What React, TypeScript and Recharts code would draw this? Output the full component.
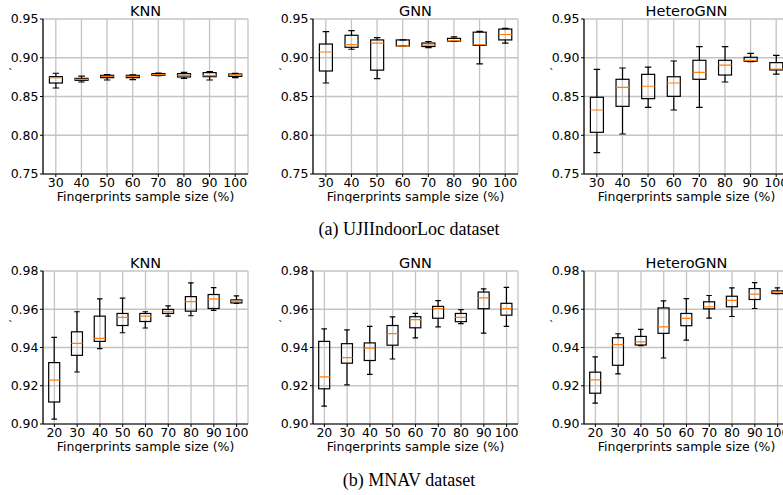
import { Bar, CartesianGrid, ComposedChart, XAxis, YAxis } from "recharts";

// sample sizes (%)
const ujiSizes = ["30", "40", "50", "60", "70", "80", "90", "100"];
const mnavSizes = ["20", "30", "40", "50", "60", "70", "80", "90", "100"];

const ujiTicks = [0.75, 0.8, 0.85, 0.9, 0.95];
const mnavTicks = [0.9, 0.92, 0.94, 0.96, 0.98];

// each entry: [whisker low, q1, median, q3, whisker high]
const ujiKnn = [
  [0.861, 0.8674, 0.8743, 0.8756, 0.88],
  [0.8687, 0.8709, 0.8721, 0.8734, 0.8764],
  [0.8713, 0.8743, 0.876, 0.8773, 0.8782],
  [0.8717, 0.8743, 0.876, 0.8773, 0.878],
  [0.8769, 0.8773, 0.8782, 0.8795, 0.8803],
  [0.8734, 0.8752, 0.8773, 0.8795, 0.8812],
  [0.8713, 0.8756, 0.877, 0.8808, 0.882],
  [0.8743, 0.876, 0.8778, 0.879, 0.8799],
];
const ujiGnn = [
  [0.8674, 0.8829, 0.9074, 0.9177, 0.9336],
  [0.911, 0.9135, 0.917, 0.929, 0.935],
  [0.873, 0.884, 0.919, 0.923, 0.926],
  [0.915, 0.915, 0.915, 0.923, 0.923],
  [0.913, 0.9145, 0.9163, 0.919, 0.921],
  [0.921, 0.9215, 0.922, 0.925, 0.927],
  [0.892, 0.916, 0.917, 0.933, 0.934],
  [0.919, 0.923, 0.93, 0.937, 0.938],
];
const ujiHetero = [
  [0.7775, 0.8038, 0.8326, 0.849, 0.885],
  [0.8016, 0.8373, 0.8619, 0.8722, 0.8868],
  [0.836, 0.8472, 0.8632, 0.8786, 0.888],
  [0.8326, 0.8502, 0.8674, 0.8755, 0.8958],
  [0.836, 0.8722, 0.8812, 0.8967, 0.9143],
  [0.8687, 0.8777, 0.8906, 0.8967, 0.9143],
  [0.8949, 0.8955, 0.8967, 0.9006, 0.9057],
  [0.879, 0.8842, 0.8855, 0.8937, 0.9031],
];
const mnavKnn = [
  [0.9026, 0.9115, 0.9229, 0.9321, 0.9453],
  [0.9272, 0.9359, 0.9422, 0.9482, 0.9587],
  [0.9394, 0.9432, 0.9448, 0.9564, 0.9654],
  [0.9477, 0.9515, 0.9557, 0.9578, 0.9658],
  [0.9502, 0.9536, 0.9564, 0.9578, 0.9587],
  [0.9564, 0.9578, 0.9587, 0.9599, 0.9618],
  [0.9566, 0.959, 0.964, 0.9666, 0.9738],
  [0.9594, 0.9604, 0.9654, 0.9677, 0.9713],
  [0.963, 0.9633, 0.9642, 0.9649, 0.967],
];
const mnavGnn = [
  [0.9093, 0.9184, 0.9246, 0.9432, 0.9497],
  [0.9205, 0.9318, 0.9347, 0.942, 0.9492],
  [0.926, 0.9332, 0.9397, 0.9424, 0.951],
  [0.934, 0.9412, 0.9473, 0.9515, 0.956],
  [0.945, 0.9503, 0.9546, 0.9561, 0.9578],
  [0.9508, 0.9553, 0.9604, 0.9615, 0.9645],
  [0.9525, 0.9535, 0.9557, 0.9578, 0.9598],
  [0.9475, 0.9603, 0.966, 0.969, 0.9707],
  [0.951, 0.9569, 0.9604, 0.9631, 0.9714],
];
const mnavHetero = [
  [0.9109, 0.9161, 0.9231, 0.9271, 0.9351],
  [0.9262, 0.9307, 0.9415, 0.9451, 0.9472],
  [0.941, 0.9413, 0.9429, 0.9458, 0.9495],
  [0.9345, 0.9474, 0.9508, 0.9607, 0.9644],
  [0.9439, 0.9514, 0.9552, 0.9578, 0.9656],
  [0.9554, 0.9602, 0.9613, 0.9639, 0.9672],
  [0.9562, 0.9613, 0.9646, 0.9668, 0.9712],
  [0.9604, 0.9651, 0.9679, 0.9708, 0.9739],
  [0.9682, 0.9682, 0.9689, 0.9696, 0.9712],
];

const FONT = "DejaVu Sans";
const PLOT_W = 205;
const YW = 45;
const MT = 22;
const MR = 6;

function BoxShape(props: any) {
  const { x, y, width, height, payload } = props;
  const top = Math.min(y, y + height);
  const h = Math.abs(height);
  const { lo, q1, med, q3, hi } = payload;
  const py = (v: number) => top + ((hi - v) / (hi - lo)) * h;
  const cx = x + width / 2;
  const half = width / 2;
  const cap = width / 4;
  const sw = 1.2;
  return (
    <g>
      <line x1={cx} x2={cx} y1={py(hi)} y2={py(q3)} stroke="#000" strokeWidth={sw} />
      <line x1={cx} x2={cx} y1={py(q1)} y2={py(lo)} stroke="#000" strokeWidth={sw} />
      <line x1={cx - cap} x2={cx + cap} y1={py(hi)} y2={py(hi)} stroke="#000" strokeWidth={sw} />
      <line x1={cx - cap} x2={cx + cap} y1={py(lo)} y2={py(lo)} stroke="#000" strokeWidth={sw} />
      <rect x={cx - half} y={py(q3)} width={width} height={Math.max(py(q1) - py(q3), 0.5)} fill="none" stroke="#000" strokeWidth={sw} />
      <line x1={cx - half} x2={cx + half} y1={py(med)} y2={py(med)} stroke="#ff7f0e" strokeWidth={sw} />
    </g>
  );
}

interface PanelProps {
  left: number;
  top: number;
  plotH: number;
  title: string;
  sizes: string[];
  rows: number[][];
  ticks: number[];
}

function Panel({ left, top, plotH, title, sizes, rows, ticks }: PanelProps) {
  const data = sizes.map((s, i) => ({
    size: s,
    lo: rows[i][0],
    q1: rows[i][1],
    med: rows[i][2],
    q3: rows[i][3],
    hi: rows[i][4],
  }));
  const domain = [ticks[0], ticks[ticks.length - 1]];
  const w = YW + PLOT_W + MR;
  const h = MT + plotH + 30;
  const clipH = MT + plotH + 28.7;
  return (
    <div
      style={{
        position: "absolute",
        left: left - YW,
        top: top - MT,
        width: w,
        height: clipH,
        overflow: "hidden",
      }}
    >
      <div
        style={{
          position: "absolute",
          left: YW,
          width: PLOT_W,
          top: MT - 7.7 - 7.25,
          textAlign: "center",
          fontFamily: FONT,
          fontSize: 14.5,
          lineHeight: "14.5px",
        }}
      >
        {title}
      </div>
      <div
        style={{
          position: "absolute",
          left: YW - 35,
          top: MT + 49,
          fontFamily: FONT,
          fontSize: 11,
          lineHeight: "11px",
        }}
      >
        `
      </div>
      <ComposedChart
        width={w}
        height={h}
        data={data}
        margin={{ top: MT, right: MR, left: 0, bottom: 0 }}
        barCategoryGap="25%"
        style={{ position: "absolute", left: 0, top: 0 }}
      >
        <CartesianGrid stroke="#c4c4c4" strokeWidth={1.3} />
        <XAxis
          dataKey="size"
          interval={0}
          height={30}
          tickSize={3}
          tickMargin={1}
          axisLine={{ stroke: "#000", strokeWidth: 1.2 }}
          tickLine={{ stroke: "#000" }}
          tick={{ fontSize: 12.5, fill: "#000", fontFamily: FONT }}
        />
        <XAxis xAxisId="top" dataKey="size" orientation="top" height={0} tick={false} tickLine={false} axisLine={{ stroke: "#000", strokeWidth: 1.2 }} />
        <YAxis
          type="number"
          domain={domain}
          ticks={ticks}
          width={YW}
          tickSize={3}
          tickMargin={1.5}
          allowDataOverflow
          tickFormatter={(v: number) => v.toFixed(2)}
          axisLine={{ stroke: "#000", strokeWidth: 1.2 }}
          tickLine={{ stroke: "#000" }}
          tick={{ fontSize: 12.5, fill: "#000", fontFamily: FONT }}
        />
        <YAxis yAxisId="right" orientation="right" width={0} domain={domain} tick={false} tickLine={false} axisLine={{ stroke: "#000", strokeWidth: 1.2 }} />
        <Bar dataKey={(d: any) => [d.lo, d.hi]} shape={BoxShape} isAnimationActive={false} />
      </ComposedChart>
      <div
        style={{
          position: "absolute",
          left: YW - 20,
          width: PLOT_W + 40,
          top: MT + plotH + 17.7,
          textAlign: "center",
          fontFamily: FONT,
          fontSize: 12.5,
          lineHeight: "9px",
          whiteSpace: "nowrap",
        }}
      >
        Fingerprints sample size (%)
      </div>
    </div>
  );
}

const captionStyle = {
  position: "absolute" as const,
  left: 209,
  width: 400,
  textAlign: "center" as const,
  fontFamily: "Liberation Serif",
  fontSize: 18,
  lineHeight: "18px",
};

export default function App() {
  return (
    <div
      style={{
        position: "absolute",
        left: 0,
        top: 0,
        width: 783,
        height: 495,
        overflow: "hidden",
        background: "#fff",
      }}
    >
      <Panel left={43} top={19} plotH={155} title="KNN" sizes={ujiSizes} rows={ujiKnn} ticks={ujiTicks} />
      <Panel left={313} top={19} plotH={155} title="GNN" sizes={ujiSizes} rows={ujiGnn} ticks={ujiTicks} />
      <Panel left={584} top={19} plotH={155} title="HeteroGNN" sizes={ujiSizes} rows={ujiHetero} ticks={ujiTicks} />
      <div style={{ ...captionStyle, top: 220 }}>(a) UJIIndoorLoc dataset</div>
      <Panel left={43} top={271} plotH={153} title="KNN" sizes={mnavSizes} rows={mnavKnn} ticks={mnavTicks} />
      <Panel left={313} top={271} plotH={153} title="GNN" sizes={mnavSizes} rows={mnavGnn} ticks={mnavTicks} />
      <Panel left={584} top={271} plotH={153} title="HeteroGNN" sizes={mnavSizes} rows={mnavHetero} ticks={mnavTicks} />
      <div style={{ ...captionStyle, top: 471 }}>(b) MNAV dataset</div>
    </div>
  );
}
